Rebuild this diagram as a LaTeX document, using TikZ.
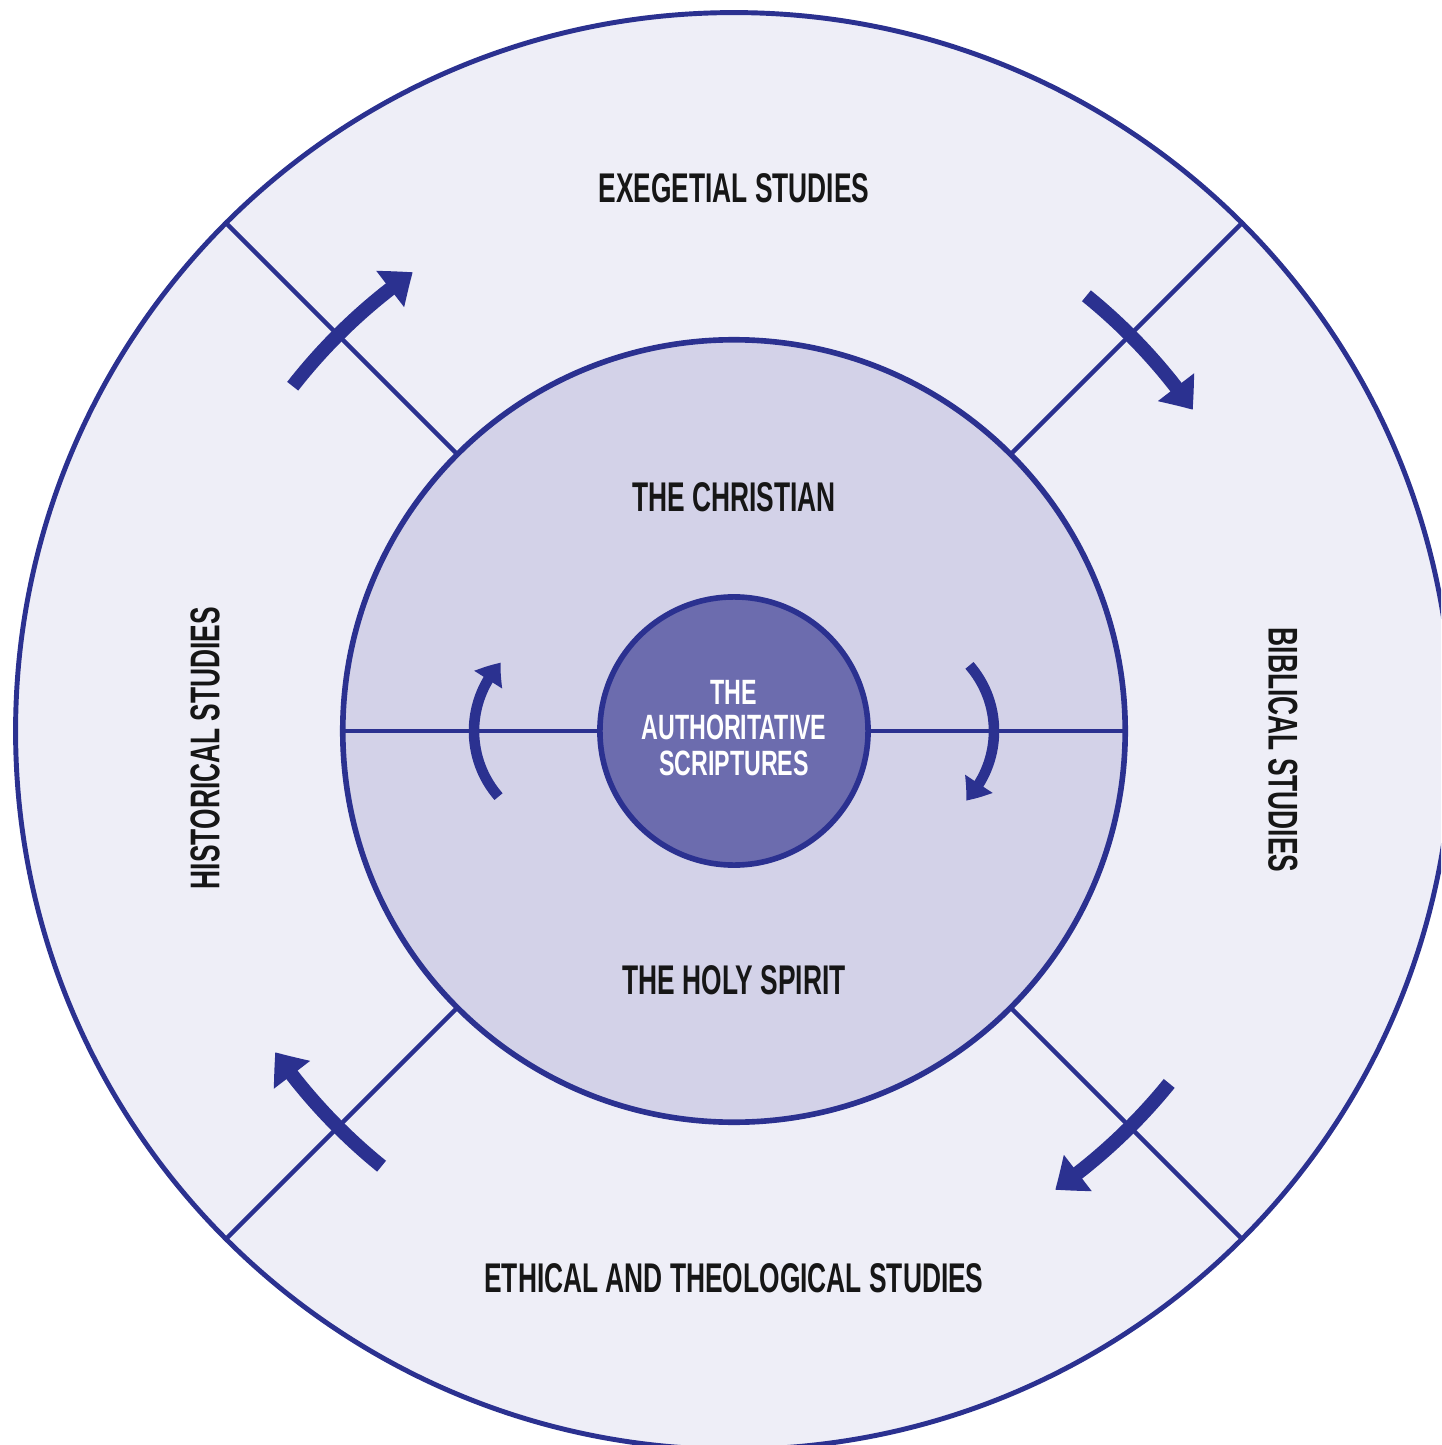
\documentclass[tikz,border=0pt]{standalone}
\usepackage{fontspec}
\newfontfamily\condfont{Liberation Sans Bold}[FakeStretch=0.635]
\newfontfamily\corefont{Liberation Sans Bold}[FakeStretch=0.66]
\usetikzlibrary{arrows.meta,bending}
\definecolor{navy}{HTML}{2B3190}
\definecolor{outerfill}{HTML}{EEEEF7}
\definecolor{midfill}{HTML}{D3D2E8}
\definecolor{innerfill}{HTML}{6C6CAE}
\definecolor{ink}{HTML}{161616}
\begin{document}
\begin{tikzpicture}[x=0.01cm,y=0.01cm,
  ring/.style={circle,draw=navy,inner sep=0pt},
  divider/.style={draw=navy,line width=1.3pt},
  bigarrow/.style={draw=navy,line width=4pt,-{Triangle[length=8pt,width=12.5pt,bend]}},
  smallarrow/.style={draw=navy,line width=3pt,-{Triangle[length=6pt,width=9pt,bend]}},
  lbl/.style={font=\condfont\fontsize{11.8}{13}\selectfont,text=ink,inner sep=0pt},
  corelbl/.style={font=\corefont\fontsize{10}{10}\selectfont,text=white,inner sep=0pt,align=center}
]
\useasboundingbox (-734,-714) rectangle (707,731);
\clip (-734,-714) rectangle (707,731);
\fill[white] (-734,-714) rectangle (707,731);
\node[ring,fill=outerfill,line width=1.4pt,minimum size=14.36cm] (outer) at (0,0) {};
\foreach \a in {45,135,225,315}
  \draw[divider] (outer.center) ++(\a:391) coordinate (d\a) -- (outer.\a);
\node[ring,fill=midfill,line width=1.6pt,minimum size=7.82cm] (mid) at (0,0) {};
\node[ring,fill=innerfill,line width=1.6pt,minimum size=2.68cm] (core) at (0,0) {};
\draw[divider] (mid.west) -- (core.west);
\draw[divider] (core.east) -- (mid.east);
% big arrows
\draw[bigarrow] (142:560) arc[start angle=142,end angle=125,radius=560];
\draw[bigarrow] (51:560) arc[start angle=51,end angle=35,radius=560];
\draw[bigarrow] (-39:560) arc[start angle=-39,end angle=-55,radius=560];
\draw[bigarrow] (231:560) arc[start angle=231,end angle=215,radius=560];
% small arrows
\draw[smallarrow] ([shift={(-160,0)}]221:100) arc[start angle=221,end angle=137,radius=100];
\draw[smallarrow] ([shift={(160,0)}]41:100) arc[start angle=41,end angle=-44,radius=100];
% labels
\node[lbl] (exeg) at (0,543) {EXEGETIAL STUDIES};
\node[lbl] (christian) at (0,234) {THE CHRISTIAN};
\node[lbl] (spirit) at (0,-249) {THE HOLY SPIRIT};
\node[lbl] (ethical) at (0,-547) {ETHICAL AND THEOLOGICAL STUDIES};
\node[lbl,rotate=90] (hist) at (-529,-17) {HISTORICAL STUDIES};
\node[lbl,rotate=-90] (bibl) at (549,-19) {BIBLICAL STUDIES};
\node[corelbl] (scripture) at (0,3) {THE\\AUTHORITATIVE\\SCRIPTURES};
\end{tikzpicture}
\end{document}
